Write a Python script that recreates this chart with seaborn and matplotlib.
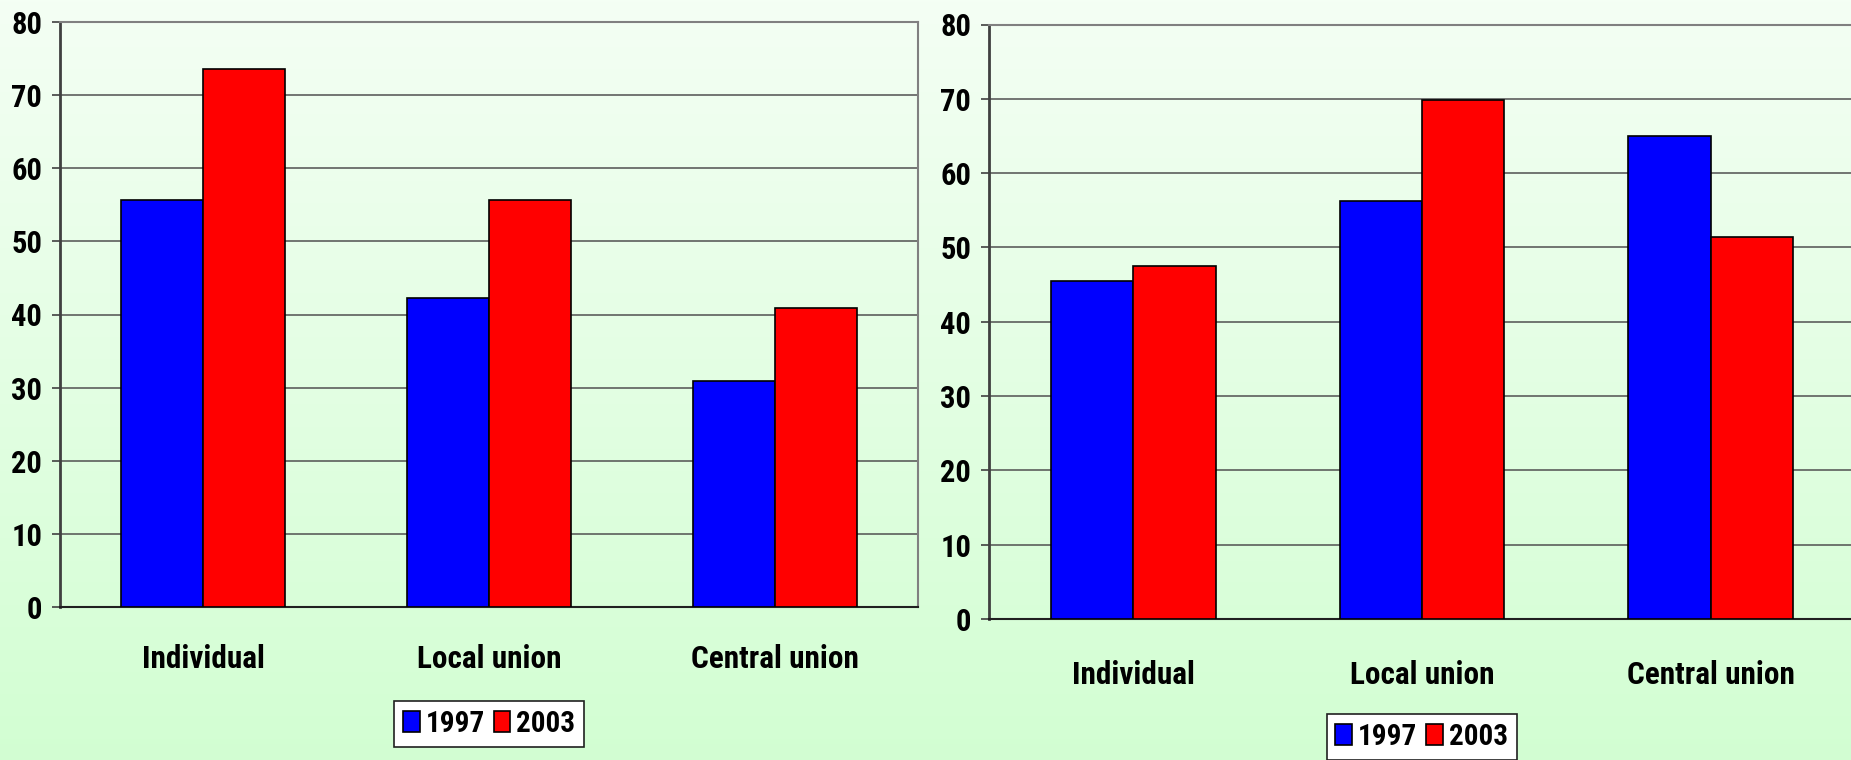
import numpy as np
import pandas as pd
import matplotlib
matplotlib.use("Agg")
import matplotlib.pyplot as plt
from matplotlib.patches import Patch
import seaborn as sns

# Data
categories = ["Individual", "Local union", "Central union"]
years = ["1997", "2003"]
left_1997 = [55.7, 42.2, 30.9]
left_2003 = [73.6, 55.6, 40.9]
right_1997 = [45.5, 56.3, 65.0]
right_2003 = [47.5, 69.8, 51.4]
y_ticks = [0, 10, 20, 30, 40, 50, 60, 70, 80]

FONTS = ["Roboto Condensed", "Archivo Narrow", "Liberation Sans", "DejaVu Sans"]

sns.set_theme(style="white")
plt.rcParams["font.family"] = FONTS
plt.rcParams["font.weight"] = "bold"
plt.rcParams["text.color"] = "black"

palette = {"1997": "#0000FF", "2003": "#FF0000"}

W, H = 1851, 760
fig = plt.figure(figsize=(W / 100, H / 100), dpi=100)

# vertical background gradient (pale mint at top to light green at bottom)
bg = fig.add_axes([0, 0, 1, 1], zorder=-10)
top = np.array([0.957, 1.0, 0.957])
bottom = np.array([0.824, 0.996, 0.824])
t = np.linspace(0, 1, 256)[:, None]
grad = top[None, :] * (1 - t) + bottom[None, :] * t
bg.imshow(grad[:, None, :], aspect="auto", extent=[0, 1, 0, 1])
bg.set_axis_off()


def make_frame(v1997, v2003):
    return pd.DataFrame({
        "category": categories * 2,
        "year": [years[0]] * 3 + [years[1]] * 3,
        "value": list(v1997) + list(v2003),
    })


def px_axes(x0, x1, ytop, ybot):
    return [x0 / W, (H - ybot) / H, (x1 - x0) / W, (ybot - ytop) / H]


def draw_panel(ax, df, label_pad):
    sns.barplot(data=df, x="category", y="value", hue="year", palette=palette,
                width=0.571, edgecolor="black", linewidth=1.2, saturation=1,
                ax=ax, legend=False, zorder=3)
    ax.set_facecolor("none")
    ax.set_ylim(0, 80)
    ax.set_xlim(-0.5, 2.5)
    ax.set_yticks(y_ticks)
    ax.set_yticklabels([str(v) for v in y_ticks], fontsize=22, fontweight="bold")
    ax.set_xticks(range(len(categories)))
    ax.set_xticklabels(categories, fontsize=22.5, fontweight="bold")
    ax.set_xticks([-0.5, 0.5, 1.5, 2.5], minor=True)
    ax.tick_params(axis="x", which="major", length=0, pad=label_pad)
    ax.tick_params(axis="x", which="minor", length=8, width=1.2,
                   color="#404040", direction="out")
    ax.tick_params(axis="y", which="major", length=5.8, width=1.2,
                   color="#404040", direction="out", pad=7, left=True)
    ax.set_xlabel("")
    ax.set_ylabel("")
    ax.yaxis.grid(True, color="#505050", linewidth=1.1, zorder=0)
    ax.set_axisbelow(True)
    for side in ("top", "right"):
        ax.spines[side].set_visible(True)
        ax.spines[side].set_color("#808080")
        ax.spines[side].set_linewidth(1.5)
    ax.spines["left"].set_color("#404040")
    ax.spines["left"].set_linewidth(2)
    ax.spines["bottom"].set_color("#202020")
    ax.spines["bottom"].set_linewidth(1.5)
    for lab in ax.get_xticklabels() + ax.get_yticklabels():
        lab.set_color("black")


ax_left = fig.add_axes(px_axes(60, 918, 22, 607))
draw_panel(ax_left, make_frame(left_1997, left_2003), 26.5)

ax_right = fig.add_axes(px_axes(989, 1855, 24.5, 619))
draw_panel(ax_right, make_frame(right_1997, right_2003), 29.5)

# legends below each panel
handles = [Patch(facecolor=palette[y], edgecolor="black", linewidth=1.2) for y in years]


def add_legend(cx, cy):
    leg = fig.legend(handles, years, loc="center", bbox_to_anchor=(cx / W, (H - cy) / H),
                     ncol=2, frameon=True, fancybox=False, framealpha=1,
                     prop={"family": FONTS, "weight": "bold", "size": 21},
                     handlelength=0.58, handleheight=0.72, handletextpad=0.2,
                     columnspacing=0.3, borderpad=0.3, borderaxespad=0)
    leg.get_frame().set_edgecolor("#202020")
    leg.get_frame().set_linewidth(1.2)
    leg.get_frame().set_facecolor("white")
    for txt in leg.get_texts():
        txt.set_color("black")
    return leg


add_legend(489, 724)
add_legend(1421.5, 737)

fig.savefig("out.png", dpi=100)
